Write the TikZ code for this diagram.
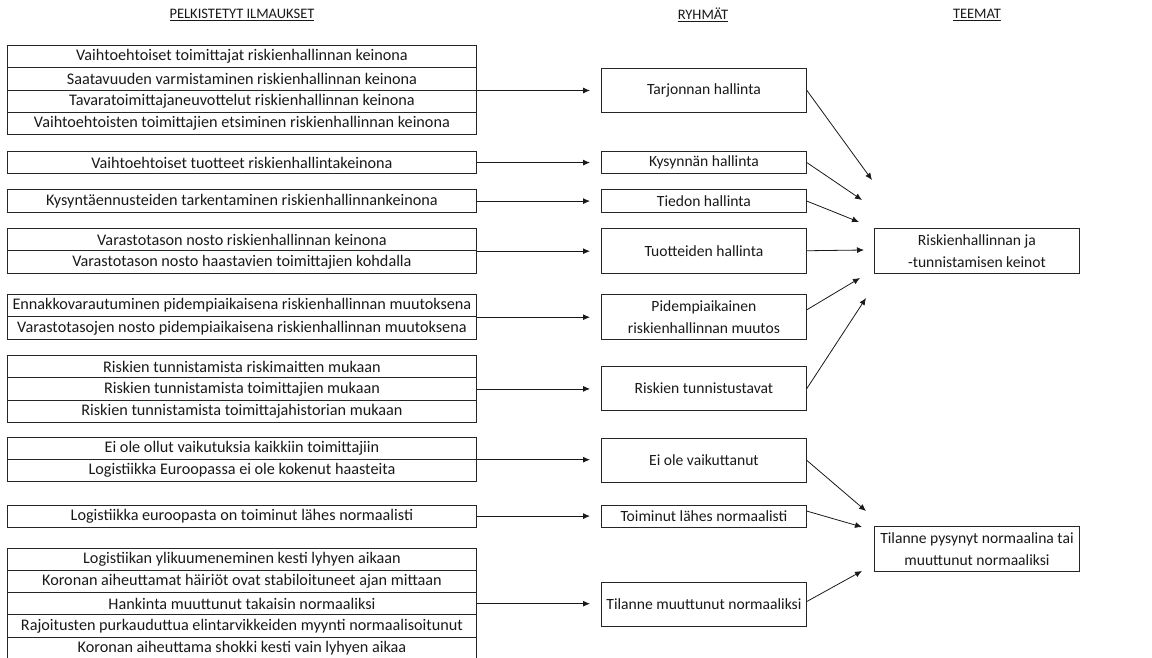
\documentclass[tikz,border=0pt]{standalone}
\usepackage{fontspec}
\setmainfont{Carlito}
\usetikzlibrary{arrows.meta,calc}
\begin{document}
\begin{tikzpicture}[x=1pt,y=-1pt,
  every node/.style={font=\fontsize{16.2}{22}\selectfont, text=black!90},
  row/.style={draw=black!85, line width=0.9pt, minimum width=469pt, minimum height=22.3pt, inner sep=0pt, anchor=north west},
  grp/.style={draw=black!85, line width=0.9pt, minimum width=205pt, inner sep=0pt, anchor=north west, align=center, font=\fontsize{15.6}{22}\selectfont},
  theme/.style={draw=black!85, line width=0.9pt, minimum width=205pt, minimum height=45pt, inner sep=0pt, anchor=north west, align=center, font=\fontsize{15.6}{22}\selectfont},
  hdr/.style={font=\fontsize{14.5}{16}\selectfont},
  arr/.style={draw=black!90, line width=0.8pt, -{Latex[length=7pt,width=6pt]}},
  feed/.style={arr, shorten >=11pt}]
\useasboundingbox (0,0) rectangle (1152,658);
% headers
\node[hdr] (h1) at (242,15) {\underline{PELKISTETYT ILMAUKSET}};
\node[hdr] (h2) at (703,15) {\underline{RYHMÄT}};
\node[hdr] (h3) at (977,15) {\underline{TEEMAT}};
% left rows
\node[row] (r1a) at (7,45.0) {Vaihtoehtoiset toimittajat riskienhallinnan keinona};
\node[row] (r1b) at (7,67.3) {Saatavuuden varmistaminen riskienhallinnan keinona};
\node[row] (r1c) at (7,89.6) {Tavaratoimittajaneuvottelut riskienhallinnan keinona};
\node[row] (r1d) at (7,111.9) {Vaihtoehtoisten toimittajien etsiminen riskienhallinnan keinona};
\node[row] (r2) at (7,151) {Vaihtoehtoiset tuotteet riskienhallintakeinona};
\node[row] (r3) at (7,189.5) {Kysyntäennusteiden tarkentaminen riskienhallinnankeinona};
\node[row] (r4a) at (7,228) {Varastotason nosto riskienhallinnan keinona};
\node[row] (r4b) at (7,250.3) {Varastotason nosto haastavien toimittajien kohdalla};
\node[row] (r5a) at (7,294) {Ennakkovarautuminen pidempiaikaisena riskienhallinnan muutoksena};
\node[row] (r5b) at (7,316.3) {Varastotasojen nosto pidempiaikaisena riskienhallinnan muutoksena};
\node[row] (r6a) at (7,355) {Riskien tunnistamista riskimaitten mukaan};
\node[row] (r6b) at (7,377.3) {Riskien tunnistamista toimittajien mukaan};
\node[row] (r6c) at (7,399.6) {Riskien tunnistamista toimittajahistorian mukaan};
\node[row] (r7a) at (7,436.5) {Ei ole ollut vaikutuksia kaikkiin toimittajiin};
\node[row] (r7b) at (7,458.8) {Logistiikka Euroopassa ei ole kokenut haasteita};
\node[row] (r8) at (7,504.5) {Logistiikka euroopasta on toiminut lähes normaalisti};
\node[row] (r9a) at (7,547.5) {Logistiikan ylikuumeneminen kesti lyhyen aikaan};
\node[row] (r9b) at (7,569.8) {Koronan aiheuttamat häiriöt ovat stabiloituneet ajan mittaan};
\node[row] (r9c) at (7,592.1) {Hankinta muuttunut takaisin normaaliksi};
\node[row] (r9d) at (7,614.4) {Rajoitusten purkauduttua elintarvikkeiden myynti normaalisoitunut};
\node[row] (r9e) at (7,636.7) {Koronan aiheuttama shokki kesti vain lyhyen aikaa};
% groups
\node[grp, minimum height=44pt] (m1) at (601,68) {Tarjonnan hallinta};
\node[grp, minimum height=22.3pt] (m2) at (601,151) {Kysynnän hallinta};
\node[grp, minimum height=22.3pt] (m3) at (601,189.5) {Tiedon hallinta};
\node[grp, minimum height=44.6pt] (m4) at (601,228) {Tuotteiden hallinta};
\node[grp, minimum height=44.6pt] (m5) at (601,294) {Pidempiaikainen\\riskienhallinnan muutos};
\node[grp, minimum height=44pt] (m6) at (601,366) {Riskien tunnistustavat};
\node[grp, minimum height=44pt] (m7) at (601,438) {Ei ole vaikuttanut};
\node[grp, minimum height=22.3pt] (m8) at (601,504.5) {Toiminut lähes normaalisti};
\node[grp, minimum height=44pt] (m9) at (601,582) {Tilanne muuttunut normaaliksi};
% themes
\node[theme] (t1) at (874,228) {Riskienhallinnan ja\\-tunnistamisen keinot};
\node[theme] (t2) at (874,526) {Tilanne pysynyt normaalina tai\\muuttunut normaaliksi};
% feeds left -> groups
\draw[feed] (r1b.south east) -- (r1b.south east -| m1.west);
\draw[feed] (r2.east) -- (r2.east -| m2.west);
\draw[feed] (r3.east) -- (r3.east -| m3.west);
\draw[feed] (r4a.south east) -- (r4a.south east -| m4.west);
\draw[feed] (r5a.south east) -- (r5a.south east -| m5.west);
\draw[feed] (r6b.east) -- (r6b.east -| m6.west);
\draw[feed] (r7a.south east) -- (r7a.south east -| m7.west);
\draw[feed] (r8.east) -- (r8.east -| m8.west);
\draw[feed] (r9c.east) -- (r9c.east -| m9.west);
% arrow end points toward themes
\coordinate (e1) at (872,180);
\coordinate (e2) at (862,200);
\coordinate (e3) at (859,222);
\coordinate (e4) at (864,250);
\coordinate (e5) at (860,278);
\coordinate (e6) at (866,298);
\coordinate (e7) at (866,511);
\coordinate (e8) at (862,527);
\coordinate (e9) at (862,571);
\draw[arr] (m1.east) -- (e1);
\draw[arr] (m2.east) -- (e2);
\draw[arr] (m3.east) -- (e3);
\draw[arr] (m4.east) -- (e4);
\draw[arr] ($(m5.east)+(0,-7)$) -- (e5);
\draw[arr] (m6.east) -- (e6);
\draw[arr] (m7.east) -- (e7);
\draw[arr] ($(m8.east)+(0,-5)$) -- (e8);
\draw[arr] ($(m9.east)+(0,-3)$) -- (e9);
\end{tikzpicture}
\end{document}
